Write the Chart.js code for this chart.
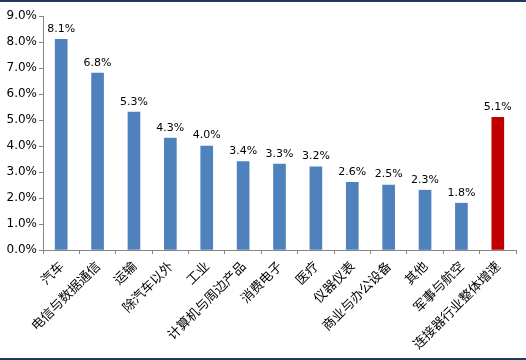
<!DOCTYPE html>
<html>
<head>
<meta charset="utf-8">
<script src="https://cdn.jsdelivr.net/npm/chart.js@4"></script>
<style>
  html, body { margin: 0; padding: 0; background: #fff; }
  #wrap { position: relative; width: 526px; height: 360px; box-sizing: border-box; border-top: 2px solid #1f3a60; border-bottom: 2px solid #1f3a60; }
</style>
</head>
<body>
<div id="wrap"><canvas id="myChart" width="526" height="356"></canvas></div>
<script>
// Catégories et valeurs (%)
const categories = ['汽车', '电信与数据通信', '运输', '除汽车以外', '工业', '计算机与周边产品', '消费电子', '医疗', '仪器仪表', '商业与办公设备', '其他', '军事与航空', '连接器行业整体增速'];
const growth = [8.1, 6.8, 5.3, 4.3, 4.0, 3.4, 3.3, 3.2, 2.6, 2.5, 2.3, 1.8, 5.1];
const barColors = ['#4f81bd', '#4f81bd', '#4f81bd', '#4f81bd', '#4f81bd', '#4f81bd', '#4f81bd', '#4f81bd', '#4f81bd', '#4f81bd', '#4f81bd', '#4f81bd', '#c00000'];
const yTicks = [0, 1, 2, 3, 4, 5, 6, 7, 8, 9];

const numFont = { family: 'Tahoma, "DejaVu Sans", sans-serif', size: 12 };
const cjkFont = { family: '"Noto Sans CJK SC", sans-serif', size: 13 };

// petites étiquettes au-dessus des barres
const valueLabels = {
    id: 'valueLabels',
    afterDatasetsDraw(chart) {
        const c = chart.ctx;
        const meta = chart.getDatasetMeta(0);
        c.save();
        c.font = '11px ' + numFont.family;
        c.fillStyle = '#000';
        c.textAlign = 'center';
        c.textBaseline = 'bottom';
        meta.data.forEach((bar, i) => {
            c.fillText(growth[i].toFixed(1) + '%', bar.x, bar.y - 5);
        });
        c.restore();
    }
};

const ctx = document.getElementById('myChart').getContext('2d');

new Chart(ctx, {
    type: 'bar',
    data: {
        labels: categories,
        datasets: [{
            data: growth,
            backgroundColor: barColors,
            borderColor: barColors,
            borderWidth: 0,
            barThickness: 12
        }]
    },
    options: {
        responsive: false,
        animation: false,
        layout: { padding: { top: 14, right: 10, left: 0, bottom: 0 } },
        plugins: {
            legend: { display: false },
            tooltip: { enabled: false }
        },
        scales: {
            x: {
                grid: { display: true, offset: true, drawOnChartArea: false, drawTicks: true, tickLength: 4, color: '#868686' },
                border: { color: '#868686', width: 1 },
                ticks: {
                    color: '#000',
                    font: cjkFont,
                    maxRotation: 45,
                    minRotation: 45,
                    autoSkip: false,
                    padding: 4
                },
                afterFit(scale) { scale.height = 108; }
            },
            y: {
                min: 0,
                max: 9,
                grid: { drawOnChartArea: false, drawTicks: true, tickLength: 4, color: '#868686' },
                border: { color: '#868686', width: 1 },
                afterBuildTicks(scale) { scale.ticks = yTicks.map(v => ({ value: v })); },
                ticks: {
                    color: '#000',
                    font: numFont,
                    padding: 2,
                    callback: v => v.toFixed(1) + '%'
                },
                afterFit(scale) { scale.width = 43; }
            }
        }
    },
    plugins: [valueLabels]
});
</script>
</body>
</html>
